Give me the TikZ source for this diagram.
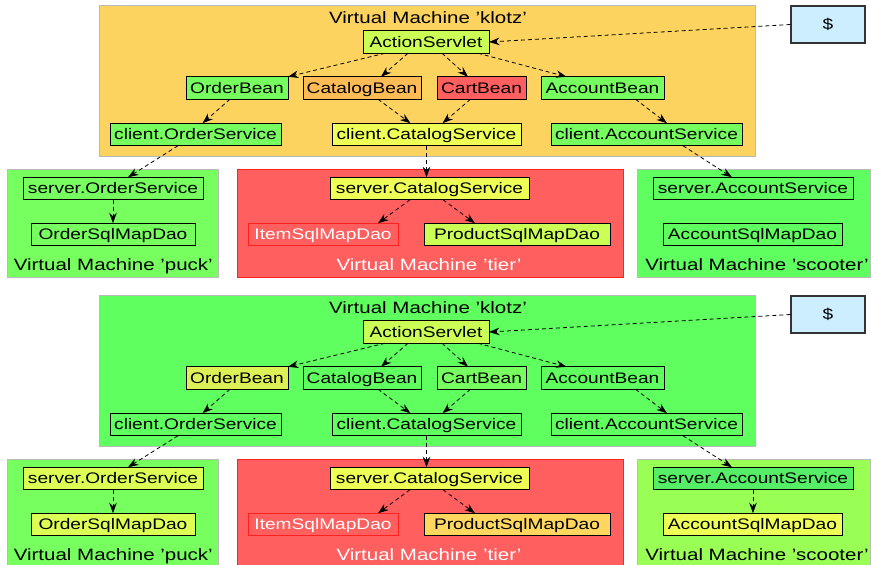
\documentclass[tikz,border=0pt]{standalone}
\usepackage{fontspec}
\setmainfont{Liberation Sans}[FakeStretch=1.25]
\usetikzlibrary{arrows.meta,calc}
\definecolor{klotzorange}{HTML}{FDD35F}
\definecolor{gA}{HTML}{77FF5F}
\definecolor{gB}{HTML}{5FFF5F}
\definecolor{gC}{HTML}{99FF55}
\definecolor{gD}{HTML}{55EE66}
\definecolor{yg}{HTML}{CCFF55}
\definecolor{ygB}{HTML}{DDFF55}
\definecolor{yl}{HTML}{EEFF55}
\definecolor{ob}{HTML}{DDF055}
\definecolor{orng}{HTML}{FFBB55}
\definecolor{gold}{HTML}{FFD75F}
\definecolor{rd}{HTML}{FF5F5F}
\definecolor{rdline}{HTML}{FF2020}
\definecolor{vmgray}{HTML}{BBBBBB}
\definecolor{dollarblue}{HTML}{CCEEFF}
\newcommand{\nodefnt}{\fontsize{15.3}{18}\selectfont}
\newcommand{\titlefnt}{\fontsize{16.4}{19}\selectfont}
\begin{document}
\begin{tikzpicture}[x=1pt,y=-1pt,
  box/.style={draw=black, line width=0.8pt, inner sep=0pt, outer sep=0pt, minimum height=22.5pt, text height=10.95pt, text depth=0pt, font=\nodefnt},
  vm/.style={draw=vmgray, line width=0.8pt, inner sep=0pt, outer sep=0pt},
  redvm/.style={draw=rdline, fill=rd, line width=0.8pt, inner sep=0pt, outer sep=0pt},
  vmtitle/.style={anchor=base, inner sep=0pt, font=\titlefnt},
  dep/.style={-{Stealth[length=10.5pt,width=7.5pt,inset=3.5pt]}, dash pattern=on 4pt off 3pt, line width=0.8pt},
  dollarbox/.style={draw=black!80, fill=dollarblue, line width=1.2pt, inner sep=0pt, minimum width=74pt, minimum height=37pt, font=\nodefnt}]
\useasboundingbox (0,0) rectangle (871,565);

% ================= upper set =================
\node[vm, fill=klotzorange, minimum width=656pt, minimum height=151pt] (aklotz) at (427,80.5) {};
\node[vmtitle] (aklotzt) at (428,23.5) {Virtual Machine 'klotz'};
\node[vm, fill=gA, minimum width=211pt, minimum height=108pt] (apuck) at (112.5,223) {};
\node[redvm, minimum width=386pt, minimum height=108pt] (atier) at (430,223) {};
\node[vm, fill=gB, minimum width=233pt, minimum height=108pt] (ascoot) at (753.5,223) {};
\node[vmtitle] (apuckt) at (113.3,270) {Virtual Machine 'puck'};
\node[vmtitle, text=white] (atiert) at (429,270) {Virtual Machine 'tier'};
\node[vmtitle] (ascoott) at (757,270) {Virtual Machine 'scooter'};

\node[dollarbox] (adollar) at (828,24.5) {\$};
\node[box, fill=yg, minimum width=126pt] (aas) at (426,42) {ActionServlet};
\node[box, fill=gA, minimum width=102pt] (aob) at (237,88) {OrderBean};
\node[box, fill=orng, minimum width=118pt] (acb) at (362,88) {CatalogBean};
\node[box, fill=rd, minimum width=89pt] (acart) at (481.5,88) {CartBean};
\node[box, fill=gA, minimum width=123pt] (aab) at (602.5,88) {AccountBean};
\node[box, fill=gA, minimum width=171pt] (acos) at (195.5,134.5) {client.OrderService};
\node[box, fill=yl, minimum width=189pt] (accs) at (426.5,134.5) {client.CatalogService};
\node[box, fill=gA, minimum width=191pt] (acas) at (646.5,134.5) {client.AccountService};
\node[box, fill=gA, minimum width=180pt] (asos) at (113,188.5) {server.OrderService};
\node[box, fill=gA, minimum width=164pt] (aosmd) at (113,234.5) {OrderSqlMapDao};
\node[box, fill=yl, minimum width=199pt] (ascs) at (429.5,188.5) {server.CatalogService};
\node[box, draw=rdline, fill=rd, text=white, minimum width=150pt] (aismd) at (323,234.5) {ItemSqlMapDao};
\node[box, fill=yg, minimum width=186pt] (apsmd) at (517,234.5) {ProductSqlMapDao};
\node[box, fill=gB, minimum width=200pt] (asas) at (753,188.5) {server.AccountService};
\node[box, fill=gB, minimum width=179pt] (aasmd) at (752.5,234.5) {AccountSqlMapDao};

\draw[dep] (adollar.west) -- (aas.east);
\draw[dep] ([xshift=-41pt]aas.south) -- (aob.north east);
\draw[dep] ([xshift=-18pt]aas.south) -- ([xshift=19pt]acb.north);
\draw[dep] ([xshift=16pt]aas.south) -- ([xshift=-13.5pt]acart.north);
\draw[dep] ([xshift=52pt]aas.south) -- ([xshift=-36pt]aab.north);
\draw[dep] ([xshift=-7pt]aob.south) -- ([xshift=7pt]acos.north);
\draw[dep] ([xshift=16pt]acb.south) -- ([xshift=-16pt]accs.north);
\draw[dep] ([xshift=-11pt]acart.south) -- ([xshift=16pt]accs.north);
\draw[dep] ([xshift=33pt]aab.south) -- ([xshift=20.5pt]acas.north);
\draw[dep] ([xshift=-17.5pt]acos.south) -- ([xshift=15pt]asos.north);
\draw[dep] (accs.south) -- (accs.south |- ascs.north);
\draw[dep] ([xshift=36.5pt]acas.south) -- ([xshift=-21pt]asas.north);
\draw[dep] (asos.south) -- (aosmd.north);
\draw[dep] ([xshift=-19.5pt]ascs.south) -- ([xshift=55pt]aismd.north);
\draw[dep] ([xshift=13.5pt]ascs.south) -- ([xshift=-42pt]apsmd.north);

% ================= lower set =================
\begin{scope}[yshift=-290pt]
\node[vm, fill=gB, minimum width=656pt, minimum height=151pt] (bklotz) at (427,80.5) {};
\node[vmtitle] (bklotzt) at (428,23.5) {Virtual Machine 'klotz'};
\node[vm, fill=gA, minimum width=211pt, minimum height=108pt] (bpuck) at (112.5,223) {};
\node[redvm, minimum width=386pt, minimum height=108pt] (btier) at (430,223) {};
\node[vm, fill=gC, minimum width=233pt, minimum height=108pt] (bscoot) at (753.5,223) {};
\node[vmtitle] (bpuckt) at (113.3,270) {Virtual Machine 'puck'};
\node[vmtitle, text=white] (btiert) at (429,270) {Virtual Machine 'tier'};
\node[vmtitle] (bscoott) at (757,270) {Virtual Machine 'scooter'};

\node[dollarbox] (bdollar) at (828,24.5) {\$};
\node[box, fill=yg, minimum width=126pt] (bas) at (426,42) {ActionServlet};
\node[box, fill=ob, minimum width=102pt] (bob) at (237,88) {OrderBean};
\node[box, fill=gB, minimum width=118pt] (bcb) at (362,88) {CatalogBean};
\node[box, fill=gA, minimum width=89pt] (bcart) at (481.5,88) {CartBean};
\node[box, fill=gB, minimum width=123pt] (bab) at (602.5,88) {AccountBean};
\node[box, fill=gB, minimum width=171pt] (bcos) at (195.5,134.5) {client.OrderService};
\node[box, fill=gB, minimum width=189pt] (bccs) at (426.5,134.5) {client.CatalogService};
\node[box, fill=gB, minimum width=191pt] (bcas) at (646.5,134.5) {client.AccountService};
\node[box, fill=ygB, minimum width=180pt] (bsos) at (113,188.5) {server.OrderService};
\node[box, fill=ygB, minimum width=164pt] (bosmd) at (113,234.5) {OrderSqlMapDao};
\node[box, fill=yl, minimum width=199pt] (bscs) at (429.5,188.5) {server.CatalogService};
\node[box, draw=rdline, fill=rd, text=white, minimum width=150pt] (bismd) at (323,234.5) {ItemSqlMapDao};
\node[box, fill=gold, minimum width=186pt] (bpsmd) at (517,234.5) {ProductSqlMapDao};
\node[box, fill=gD, minimum width=200pt] (bsas) at (753,188.5) {server.AccountService};
\node[box, fill=yl, minimum width=179pt] (basmd) at (752.5,234.5) {AccountSqlMapDao};

\draw[dep] (bdollar.west) -- (bas.east);
\draw[dep] ([xshift=-41pt]bas.south) -- (bob.north east);
\draw[dep] ([xshift=-18pt]bas.south) -- ([xshift=19pt]bcb.north);
\draw[dep] ([xshift=16pt]bas.south) -- ([xshift=-13.5pt]bcart.north);
\draw[dep] ([xshift=52pt]bas.south) -- ([xshift=-36pt]bab.north);
\draw[dep] ([xshift=-7pt]bob.south) -- ([xshift=7pt]bcos.north);
\draw[dep] ([xshift=16pt]bcb.south) -- ([xshift=-16pt]bccs.north);
\draw[dep] ([xshift=-11pt]bcart.south) -- ([xshift=16pt]bccs.north);
\draw[dep] ([xshift=33pt]bab.south) -- ([xshift=20.5pt]bcas.north);
\draw[dep] ([xshift=-17.5pt]bcos.south) -- ([xshift=15pt]bsos.north);
\draw[dep] (bccs.south) -- (bccs.south |- bscs.north);
\draw[dep] ([xshift=36.5pt]bcas.south) -- ([xshift=-21pt]bsas.north);
\draw[dep] (bsos.south) -- (bosmd.north);
\draw[dep] ([xshift=-19.5pt]bscs.south) -- ([xshift=55pt]bismd.north);
\draw[dep] ([xshift=13.5pt]bscs.south) -- ([xshift=-42pt]bpsmd.north);
\draw[dep] (bsas.south) -- (bsas.south |- basmd.north);
\end{scope}
\end{tikzpicture}
\end{document}
